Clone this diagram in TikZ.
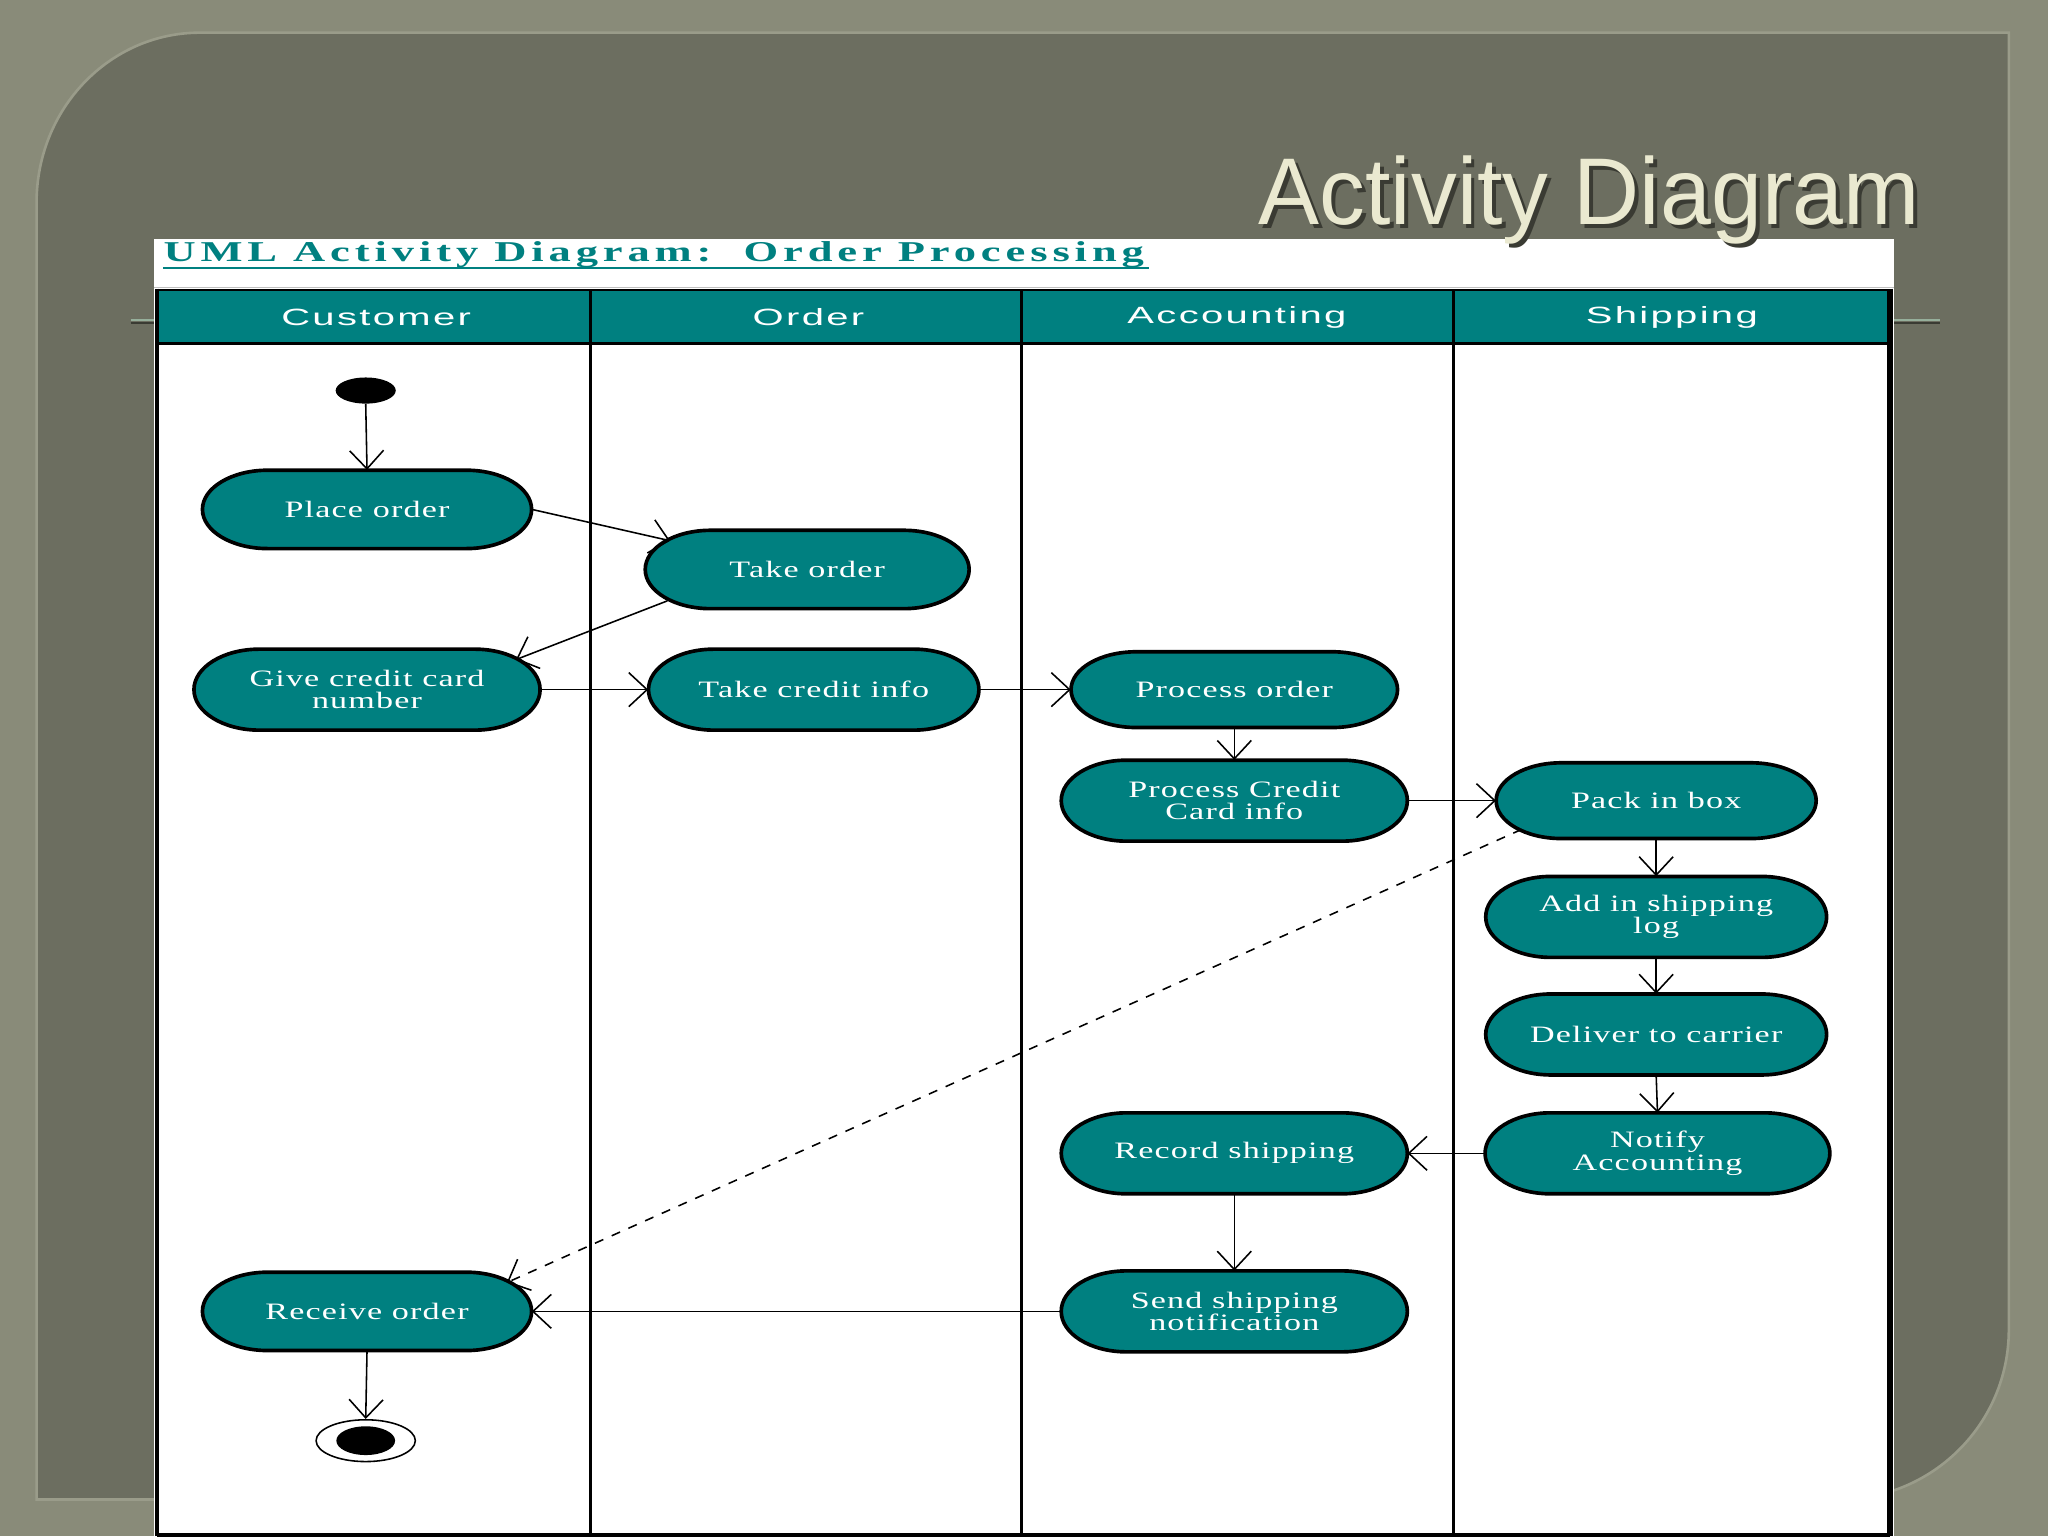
\documentclass[tikz,border=0pt]{standalone}
\usepackage{fontspec}
\setmainfont{Liberation Serif}
\newfontfamily\nodefont[FakeStretch=1.45,LetterSpace=5]{Liberation Serif}
\newfontfamily\lanefont[FakeStretch=1.7,LetterSpace=10]{Liberation Sans}
\newfontfamily\umlfont[FakeStretch=1.55,LetterSpace=17]{Liberation Serif}
\newfontfamily\slidefont[FakeStretch=0.965]{Liberation Sans}
\usetikzlibrary{arrows.meta,shapes.geometric}
\definecolor{umlteal}{HTML}{008080}
\definecolor{outerbg}{HTML}{898B79}
\definecolor{panelbg}{HTML}{6C6E60}
\definecolor{paneledge}{HTML}{9A9C8A}
\definecolor{titlecream}{HTML}{EAE9D0}
\definecolor{titleshadow}{HTML}{3A3B33}
\pgfdeclarelayer{back}
\pgfdeclarelayer{shapes}
\pgfsetlayers{back,shapes,main}
\tikzset{
  actshape/.style={fill=umlteal, draw=black, line width=2.8pt},
  acttext/.style={rectangle, inner sep=0pt, text=white, align=center,
    font=\nodefont\fontsize{18}{17}\selectfont},
  flow/.style={line width=1.2pt, -{Straight Barb[length=14pt,width=26pt,line width=1.2pt]}},
  lane/.style={draw=black, line width=2pt},
  lanelabel/.style={text=white, inner sep=0pt, font=\lanefont\fontsize{18}{20}\selectfont}
}
\newcommand\actnode[6]{%
  \begin{pgfonlayer}{shapes}
    \path[actshape] (#2-#4/2+50,#3-#5/2) -- (#2+#4/2-50,#3-#5/2)
      arc[start angle=90,end angle=-90,x radius=50pt,y radius=#5*0.5pt]
      -- (#2-#4/2+50,#3+#5/2)
      arc[start angle=270,end angle=90,x radius=50pt,y radius=#5*0.5pt] -- cycle;
  \end{pgfonlayer}
  \node[acttext, minimum width=#4pt, minimum height=#5pt] (#1) at (#2,#3) {#6};
}
\begin{document}
\begin{tikzpicture}[x=1pt,y=-1pt]
\useasboundingbox (0,0) rectangle (1568,1176);
\begin{pgfonlayer}{back}
  % slide background
  \fill[outerbg] (0,0) rectangle (1568,1176);
  \path[fill=panelbg, draw=paneledge, line width=2pt]
    (28,1148) -- (28,155) arc[start angle=180,end angle=90,x radius=125pt,y radius=130pt]
    -- (1538,25) -- (1538,1018) arc[start angle=0,end angle=-90,x radius=130pt,y radius=130pt]
    -- cycle;
  \draw[draw=titleshadow, line width=1.5pt] (100,247) -- (1485,247);
  \draw[draw={rgb,255:red,150;green,175;blue,155}, line width=1pt] (100,245) -- (1485,245);
  % white diagram area
  \fill[white] (118,183) rectangle (1450,1176);
  \draw[draw=black!25, line width=1pt] (118,220) -- (1450,220);
  % swimlane header
  \fill[umlteal] (120,222) rectangle (1447,263);
  \draw[lane] (120,222) -- (1447,222);
  \draw[lane] (120,263) -- (1447,263);
  \draw[lane, line width=3pt] (120,221) -- (120,1176);
  \draw[lane, line width=5pt] (1447,221) -- (1447,1176);
  \draw[lane] (452,222) -- (452,1176);
  \draw[lane] (782,222) -- (782,1176);
  \draw[lane] (1113,222) -- (1113,1176);
  \draw[lane, line width=3pt] (120,1175) -- (1447,1175);
\end{pgfonlayer}

% slide title
\node[anchor=base east, inner sep=0pt, text=titleshadow, font=\slidefont\fontsize{72.6}{80}\selectfont] (slidetitleshadow) at (1473,175) {Activity Diagram};
\node[anchor=base east, inner sep=0pt, text=titlecream, font=\slidefont\fontsize{72.6}{80}\selectfont] (slidetitle) at (1470,172) {Activity Diagram};

% diagram title
\node[anchor=base west, inner sep=0pt, text=umlteal, font=\umlfont\bfseries\fontsize{22}{24}\selectfont] (umltitle) at (125,200) {UML Activity Diagram:\ \ Order Processing};
\draw[umlteal, line width=1.5pt] (125,205) -- (880,205);

% lane labels
\node[lanelabel] (lcust) at (288,243) {Customer};
\node[lanelabel] (lord) at (619,243) {Order};
\node[lanelabel] (lacc) at (947,243) {Accounting};
\node[lanelabel] (lship) at (1280,243) {Shipping};

% activities
\node[ellipse, fill=black, inner sep=0pt, minimum width=46pt, minimum height=20pt] (start) at (280,299) {};
\actnode{place}{281}{390}{252}{60}{Place order}
\actnode{takeorder}{618}{436}{248}{60}{Take order}
\actnode{give}{281}{528}{265}{62}{Give credit card\\number}
\actnode{takecredit}{623}{528}{253}{62}{Take credit info}
\actnode{procorder}{945}{528}{250}{58}{Process order}
\actnode{proccredit}{945}{613}{265}{62}{Process Credit\\Card info}
\actnode{pack}{1268}{613}{245}{58}{Pack in box}
\actnode{addlog}{1268}{702}{261}{62}{Add in shipping\\log}
\actnode{deliver}{1268}{792}{261}{62}{Deliver to carrier}
\actnode{notify}{1269}{883}{264}{62}{Notify\\Accounting}
\actnode{record}{945}{883}{265}{62}{Record shipping}
\actnode{send}{945}{1004}{265}{62}{Send shipping\\notification}
\actnode{receive}{281}{1004}{252}{60}{Receive order}
\node[ellipse, draw=black, fill=white, line width=1.2pt, inner sep=0pt, minimum width=76pt, minimum height=32pt] (endo) at (280,1103) {};
\node[ellipse, fill=black, inner sep=0pt, minimum width=45pt, minimum height=22pt] (endi) at (280,1103) {};

% flows
\draw[flow] (start.south) -- (place.north);
\draw[flow] (place.east) -- ([shift={(-105,-22)}]takeorder.center);
\draw[flow] ([shift={(-107,24)}]takeorder.center) -- ([shift={(114,-23)}]give.center);
\draw[flow] (give.east) -- (takecredit.west);
\draw[flow] (takecredit.east) -- (procorder.west);
\draw[flow] (procorder.south) -- (proccredit.north);
\draw[flow] (proccredit.east) -- (pack.west);
\draw[flow] (pack.south) -- (addlog.north);
\draw[flow] (addlog.south) -- (deliver.north);
\draw[flow] (deliver.south) -- (notify.north);
\draw[flow] (notify.west) -- (record.east);
\draw[flow] (record.south) -- (send.north);
\draw[flow] (send.west) -- (receive.east);
\draw[flow, dash pattern=on 7pt off 7pt] ([shift={(-103,22)}]pack.center) -- ([shift={(107,-22)}]receive.center);
\draw[flow] (receive.south) -- (endo.north);
\end{tikzpicture}
\end{document}
